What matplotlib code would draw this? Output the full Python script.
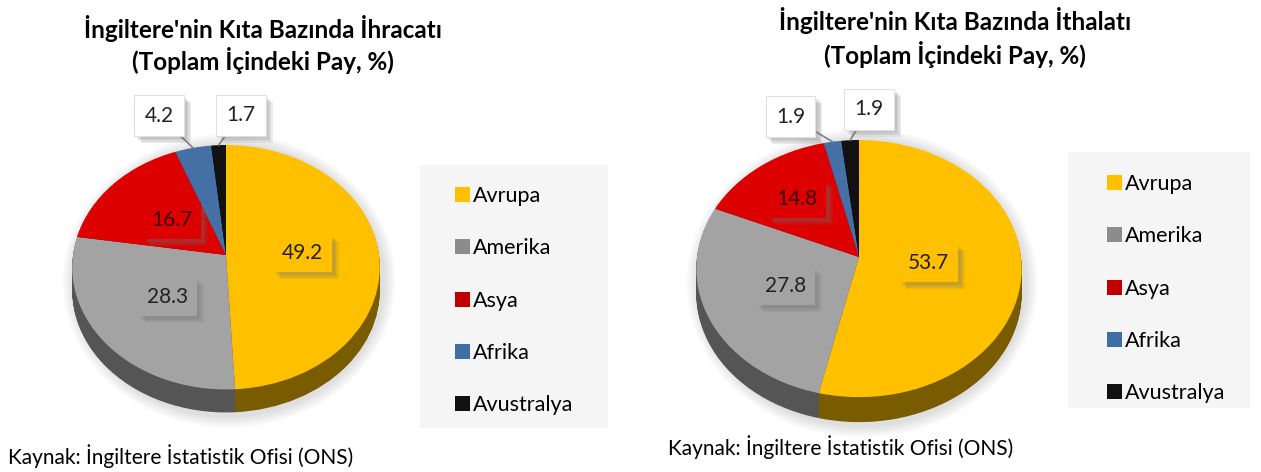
import numpy as np
import matplotlib.pyplot as plt
import matplotlib.patheffects as pe
import matplotlib.transforms as mtransforms
from matplotlib.patches import Patch, Ellipse, Rectangle

plt.rcParams['font.family'] = ['Lato', 'DejaVu Sans']

# data
continents = ['Avrupa', 'Amerika', 'Asya', 'Afrika', 'Avustralya']
export_share = [49.2, 28.3, 16.7, 4.2, 1.7]
import_share = [53.7, 27.8, 14.8, 1.9, 1.9]
export_labels = ['49.2', '28.3', '16.7', '4.2', '1.7']
import_labels = ['53.7', '27.8', '14.8', '1.9', '1.9']

top_colors = ['#FFC000', '#A3A3A3', '#DD0000', '#4470A6', '#111111']
side_colors = ['#7A5C00', '#555555', '#7A0000', '#2A4A70', '#000000']
legend_colors = ['#FFC000', '#8C8C8C', '#C00000', '#3F6EA5', '#111111']

W, H = 1261, 472
fig = plt.figure(figsize=(W / 100, H / 100), dpi=100)
ax = fig.add_axes([0, 0, 1, 1])


class Tilt(mtransforms.Transform):
    """Simple perspective for a pie seen from above at an angle."""
    input_dims = output_dims = 2

    def __init__(self, k):
        super().__init__()
        self.k = k

    def transform_non_affine(self, xy):
        xy = np.asarray(xy, dtype=float)
        d = 1 + self.k * xy[:, 1]
        return np.column_stack([xy[:, 0] / d, xy[:, 1] / d])


shadow = [pe.SimplePatchShadow(offset=(o, -o), shadow_rgbFace='#707070', alpha=0.12)
          for o in (5, 4, 3, 2)] + [pe.Normal()]


def draw_pie(cx, cy, rx, ry, k, depth, values, labels, label_r, callouts):
    tilt = Tilt(k)
    top, bottom = cy - ry / (1 + k), cy + ry / (1 - k) + depth
    for j in range(8):
        ax.add_patch(Ellipse((cx + 3, (top + bottom) / 2 + 2), 2 * rx + 6 + 3 * j,
                             bottom - top + 6 + 3 * j, color='#808080', alpha=0.03, lw=0))
    for s in np.linspace(depth, 0, 30):
        wedges, _ = ax.pie(values, colors=side_colors if s > 0 else top_colors,
                           startangle=90, counterclock=False, radius=1,
                           wedgeprops=dict(linewidth=0))
        place = mtransforms.Affine2D().scale(rx, -ry).translate(cx, cy + s)
        for w in wedges:
            w.set_transform(tilt + place + ax.transData)
    to_px = tilt + mtransforms.Affine2D().scale(rx, -ry).translate(cx, cy)

    total = sum(values)
    cum = np.cumsum([0] + list(values))[:-1]
    for i, (v, lab) in enumerate(zip(values, labels)):
        ang = np.deg2rad(90 - 360 * (cum[i] + v / 2) / total)
        c, s = np.cos(ang), np.sin(ang)
        if i in callouts:
            dx, dy = callouts[i]
            xy = to_px.transform([[c, s]])[0]
            t = ax.annotate(lab, xy=xy, xytext=(dx, dy), textcoords='offset pixels',
                            ha='center', va='center', fontsize=15, color='#222222', zorder=5,
                            bbox=dict(boxstyle='square,pad=0.5', fc='white', ec='#e0e0e0', lw=0.8),
                            arrowprops=dict(arrowstyle='-', color='#808080', lw=1.2,
                                            shrinkA=0, shrinkB=0))
        else:
            r = label_r[i]
            xy = to_px.transform([[r * c, r * s]])[0]
            t = ax.text(xy[0], xy[1], lab, ha='center', va='center', fontsize=15, zorder=5,
                        color='#222222' if i != 2 else '#3a0000',
                        bbox=dict(boxstyle='square,pad=0.42', fc=top_colors[i], ec='none'))
        t.get_bbox_patch().set_path_effects(shadow)


draw_pie(226, 255, 153, 121, 0.10, 23, export_share, export_labels,
         [0.5, 0.5, 0.47, 0, 0], {3: (-34, 32), 4: (22, 30)})
draw_pie(859, 257, 162, 127.5, 0.09, 25, import_share, import_labels,
         [0.43, 0.5, 0.62, 0, 0], {3: (-42, 25), 4: (19, 31)})

ax.set_aspect('auto')
ax.set_xlim(0, W)
ax.set_ylim(H, 0)
ax.axis('off')

handles = [Patch(facecolor=c, edgecolor='none') for c in legend_colors]
# legend backgrounds (left, top, right, bottom) and first-entry anchor
for (bx0, by0, bx1, by1), (hx, hy) in [((420, 165, 608, 428), (455, 186)),
                                          ((1068, 152, 1250, 408), (1107, 174))]:
    fig.patches.append(Rectangle((bx0 / W, 1 - by1 / H), (bx1 - bx0) / W, (by1 - by0) / H,
                                 transform=fig.transFigure, fc='#f5f5f5', ec='none', zorder=0))
    fig.legend(handles, continents, loc='upper left',
               bbox_to_anchor=(hx / W, 1 - hy / H), frameon=False,
               fontsize=15.5, handlelength=0.7, handleheight=0.7,
               handletextpad=0.15, labelspacing=1.5, borderpad=0,
               borderaxespad=0)

fig.text(263 / W, 1 - 28 / H, "İngiltere'nin Kıta Bazında İhracatı",
         ha='center', va='center', fontsize=17.5, fontweight='bold')
fig.text(263 / W, 1 - 60 / H, "(Toplam İçindeki Pay, %)",
         ha='center', va='center', fontsize=17.5, fontweight='bold')
fig.text(955 / W, 1 - 21 / H, "İngiltere'nin Kıta Bazında İthalatı",
         ha='center', va='center', fontsize=17.5, fontweight='bold')
fig.text(955 / W, 1 - 55 / H, "(Toplam İçindeki Pay, %)",
         ha='center', va='center', fontsize=17.5, fontweight='bold')

fig.text(8 / W, 1 - 456 / H, "Kaynak: İngiltere İstatistik Ofisi (ONS)",
         ha='left', va='center', fontsize=15)
fig.text(668 / W, 1 - 447 / H, "Kaynak: İngiltere İstatistik Ofisi (ONS)",
         ha='left', va='center', fontsize=15)

fig.savefig('out.png', dpi=100)
